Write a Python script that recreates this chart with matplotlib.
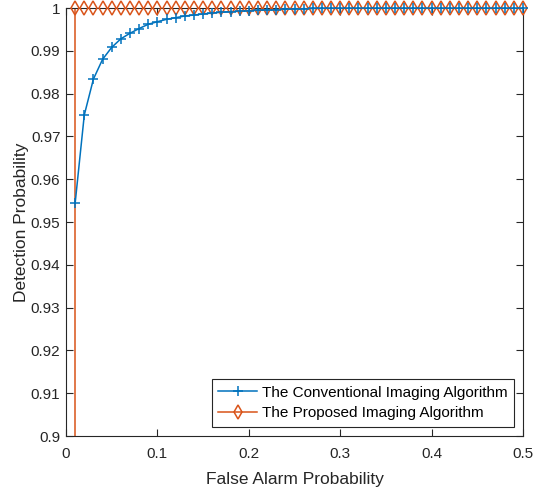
import matplotlib
matplotlib.use("Agg")
import matplotlib.pyplot as plt
from matplotlib.lines import Line2D

plt.rcParams['font.family'] = ['Liberation Sans', 'DejaVu Sans']

pfa = [round(0.01 * i, 2) for i in range(1, 51)]
pd_conv = [0.9544, 0.9750, 0.9834, 0.9880, 0.9908, 0.9928, 0.9941, 0.9952, 0.9962, 0.9968,
           0.99735, 0.99774, 0.99813, 0.99836, 0.9986, 0.99883, 0.9990, 0.99914, 0.99925, 0.99935,
           0.99945, 0.99955, 0.99963, 0.9997, 0.99978, 0.99984, 0.99989, 0.99993, 0.99996, 0.99998,
           0.99999, 1.0, 1.0, 1.0, 1.0, 1.0, 1.0, 1.0, 1.0, 1.0,
           1.0, 1.0, 1.0, 1.0, 1.0, 1.0, 1.0, 1.0, 1.0, 1.0]
pfa_prop = [0.01] + pfa
pd_prop = [0.0] + [1.0] * 50

xticks = [0, 0.1, 0.2, 0.3, 0.4, 0.5]
xticklabels = ['0', '0.1', '0.2', '0.3', '0.4', '0.5']
yticks = [0.9, 0.91, 0.92, 0.93, 0.94, 0.95, 0.96, 0.97, 0.98, 0.99, 1.0]
yticklabels = ['0.9', '0.91', '0.92', '0.93', '0.94', '0.95', '0.96', '0.97', '0.98', '0.99', '1']

blue = '#0072BD'
orange = '#D95319'
axc = '#262626'

fig = plt.figure(figsize=(5.34, 4.94), dpi=100)
ax = fig.add_axes([0.1236, 0.1174, 0.9794 - 0.1236, 0.9838 - 0.1174])

# lines (clipped)
ax.plot(pfa, pd_conv, color=blue, linewidth=1.1, zorder=3)
ax.plot(pfa_prop, pd_prop, color=orange, linewidth=1.1, zorder=2)
# markers (not clipped, MATLAB style)
ax.plot(pfa_prop, pd_prop, linestyle='none', marker='d', markersize=7.5,
        markerfacecolor='none', markeredgecolor=orange, markeredgewidth=1.1,
        clip_on=False, zorder=4)
ax.plot(pfa, pd_conv, linestyle='none', marker='+', markersize=7,
        markeredgecolor=blue, markeredgewidth=1.1, clip_on=False, zorder=5)

ax.set_ylim(0.9, 1.0)
ax.set_xlim(0, 0.5)

ax.set_xticks(xticks)
ax.set_xticklabels(xticklabels)
ax.set_yticks(yticks)
ax.set_yticklabels(yticklabels)
ax.tick_params(direction='in', length=5, width=0.8, colors=axc, labelsize=11,
               top=True, right=True, labelcolor=axc)
ax.tick_params(axis='x', pad=8)
ax.tick_params(axis='y', pad=4)
for s in ax.spines.values():
    s.set_color(axc)
    s.set_linewidth(0.8)

ax.set_xlabel('False Alarm Probability', fontsize=12.5, color=axc, labelpad=8)
ax.set_ylabel('Detection Probability', fontsize=12.5, color=axc, labelpad=1)

handles = [
    Line2D([], [], color=blue, marker='+', markersize=7, linewidth=1.1, markeredgewidth=1.1),
    Line2D([], [], color=orange, marker='d', markersize=7.5, linewidth=1.1,
           markerfacecolor='none', markeredgewidth=1.1),
]
labels = ['The Conventional Imaging Algorithm', 'The Proposed Imaging Algorithm']
leg = ax.legend(handles, labels, loc='lower right', fontsize=11, frameon=True, fancybox=False,
                edgecolor=axc, handlelength=2.55, borderpad=0.42, labelspacing=0.44,
                handletextpad=0.3, borderaxespad=0.6, framealpha=1)
leg.get_frame().set_linewidth(0.8)
for t in leg.get_texts():
    t.set_color('black')

fig.savefig('out.png', dpi=100)
